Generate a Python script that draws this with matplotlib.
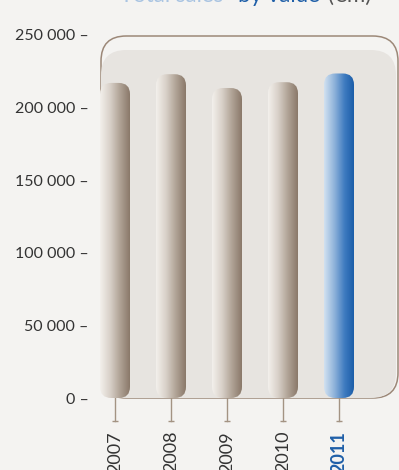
import matplotlib
matplotlib.use("Agg")
import matplotlib.pyplot as plt
from matplotlib.patches import FancyBboxPatch
from matplotlib.colors import LinearSegmentedColormap
import numpy as np

years = ["2007", "2008", "2009", "2010", "2011"]
sales = [217000, 223000, 213500, 217500, 223500]
highlight = "2011"
yticks = [0, 50000, 100000, 150000, 200000, 250000]

plt.rcParams["font.family"] = ["Lato", "DejaVu Sans"]

W, H = 399, 470
fig = plt.figure(figsize=(W / 100, H / 100), dpi=100, facecolor="#f4f3f1")
# axes box in pixels: x 90..399, y (top) 35..398
ax = fig.add_axes([90 / W, (H - 398) / H, (399 - 90) / W, (398 - 35) / H])
ax.set_facecolor("none")
for s in ax.spines.values():
    s.set_visible(False)

px_x = 1 / 56
px_y = 250000 / 363
aspect = px_y / px_x

# outline frame and inner panel
frame = FancyBboxPatch((-14 * px_x, 0), 297 * px_x, 362 * px_y,
                       boxstyle="round,pad=0,rounding_size=0.45",
                       mutation_aspect=aspect, fc="none", ec="#9c8878",
                       lw=1.1, clip_on=False, zorder=1)
ax.add_patch(frame)
panel = FancyBboxPatch((-14 * px_x, 0), 295 * px_x, 348 * px_y,
                       boxstyle="round,pad=0,rounding_size=0.45",
                       mutation_aspect=aspect, fc="#e7e4e0", ec="none",
                       clip_on=False, zorder=2)
ax.add_patch(panel)

x = np.arange(len(years))
bars = ax.bar(x, sales, width=30 * px_x, color="none", zorder=3)

gray_cm = LinearSegmentedColormap.from_list("g", ["#f3f0ec", "#d9d1c9", "#b0a396", "#8a7869"])
blue_cm = LinearSegmentedColormap.from_list("b", ["#d3e2f1", "#8fb3da", "#3f7bc0", "#175aa6"])
grad = np.linspace(0, 1, 256).reshape(1, -1)

for yr, rect in zip(years, bars):
    bx, bw, bh = rect.get_x(), rect.get_width(), rect.get_height()
    clip = FancyBboxPatch((bx, 0), bw, bh,
                          boxstyle="round,pad=0,rounding_size=0.2",
                          mutation_aspect=aspect, fc="none", ec="none", clip_on=False)
    ax.add_patch(clip)
    im = ax.imshow(grad, cmap=blue_cm if yr == highlight else gray_cm,
                   extent=(bx, bx + bw, 0, bh), aspect="auto", zorder=4,
                   interpolation="bilinear")
    im.set_clip_path(clip)
    # stem below bar
    cx = bx + bw / 2
    ax.plot([cx, cx], [0, -23 * px_y], color="#a39383", lw=1, clip_on=False, zorder=1)
    ax.plot([cx], [-23 * px_y], marker="_", ms=5, mew=1, color="#a39383", clip_on=False)
    ax.text(cx, -33 * px_y, yr, rotation=90, ha="center", va="top",
            fontsize=13, color="#1f5fa8" if yr == highlight else "#333333",
            fontweight="bold" if yr == highlight else "normal", clip_on=False)

ax.set_xlim(-25 / 56, (399 - 115) / 56)
ax.set_ylim(0, 250000)
ax.set_xticks([])
ax.set_yticks(yticks)
ax.set_yticklabels([f"{v:,}".replace(",", " ") + " \u2013" for v in yticks])
ax.tick_params(axis="y", length=0, pad=1, labelsize=11.5, labelcolor="#333333")

# title, clipped at the top edge as in the source
ty = 1 - 2 / H
fig.text(120 / W, ty, "Total sales ", color="#a9c4e2", fontsize=16, va="baseline")
fig.text(238 / W, ty, "by value", color="#1f5fa8", fontsize=16, va="baseline")
fig.text(328 / W, ty, "(\u20acm)", color="#555555", fontsize=16, va="baseline")

fig.savefig("out.png", dpi=100, facecolor=fig.get_facecolor())
